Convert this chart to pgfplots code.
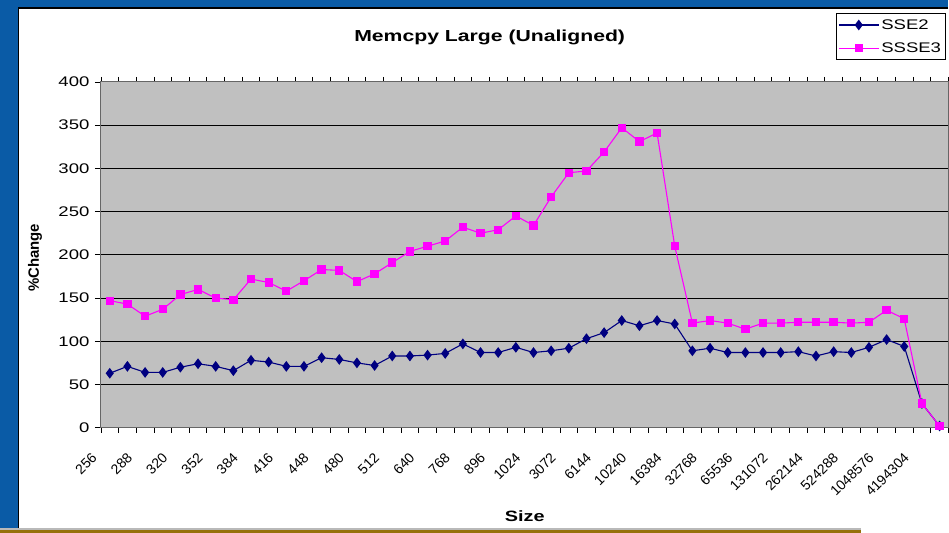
\documentclass[border=0pt]{standalone}
\usepackage{fontspec}
\setmainfont{Liberation Sans}
\newfontfamily\wide[FakeStretch=1.33]{Liberation Sans}
\usepackage{pgfplots}
\pgfplotsset{compat=1.18}
\definecolor{slideblue}{RGB}{10,91,166}
\definecolor{plotgray}{RGB}{192,192,192}
\definecolor{navyline}{RGB}{0,0,128}
\definecolor{magline}{RGB}{255,0,255}
\definecolor{goldstrip}{RGB}{150,112,10}
\begin{document}
\begin{tikzpicture}
\fill[slideblue] (0,0) rectangle (949bp,533bp);
\fill[white] (18bp,0bp) rectangle (949bp,525.5bp);
\draw[black,line width=1.2bp] (18.6bp,5bp) -- (18.6bp,525bp) -- (949bp,525bp);
\fill[gray!55] (0,3bp) rectangle (862bp,5bp);
\fill[goldstrip] (0,0) rectangle (862bp,3bp);
\useasboundingbox (0,0) rectangle (949bp,533bp);
\begin{axis}[
  at={(101bp,105bp)}, anchor=south west,
  scale only axis, width=848bp, height=346bp,
  xmin=-0.5, xmax=47.5, ymin=0, ymax=400,
  axis background/.style={fill=plotgray},
  axis line style={draw=black!60, line width=0.9bp},
  ytick={0,50,...,400},
  ymajorgrids, major grid style={black, line width=0.9bp},
  xtick={0,2,...,46},
  xticklabels={256,288,320,352,384,416,448,480,512,640,768,896,1024,3072,6144,10240,16384,32768,65536,131072,262144,524288,1048576,4194304},
  major x tick style={draw=none},
  minor xtick={-0.5,0.5,...,47.5},
  minor x tick style={black, line width=0.8bp},
  minor tick length=5bp,
  major y tick style={black, line width=0.8bp},
  major tick length=6bp,
  tick align=outside,
  /pgf/number format/assume math mode=true,
  yticklabel style={font=\wide\fontsize{14}{16}\selectfont, xshift=-2bp},
  xticklabel style={font=\fontsize{14}{16}\selectfont, xshift=-13bp, yshift=-19bp, rotate=45, anchor=east},
  title={Memcpy Large (Unaligned)},
  title style={font=\wide\bfseries\fontsize{16}{18}\selectfont, at={(axis description cs:0.4587,1.112)}, anchor=center},
  xlabel={Size},
  every axis x label/.style={at={(axis description cs:0.5,-0.257)}, anchor=center, font=\wide\bfseries\fontsize{15}{17}\selectfont},
  ylabel={\%Change},
  every axis y label/.style={at={(axis description cs:-0.0778,0.491)}, anchor=center, rotate=90, font=\bfseries\fontsize{15}{17}\selectfont},
  legend style={at={(rel axis cs:0.9965,1.1994)}, anchor=north east, draw=black, line width=0.8bp, fill=white,
    font=\wide\fontsize{14}{16}\selectfont, inner xsep=2bp, inner ysep=4bp, row sep=8bp, cells={anchor=west}},
  legend image code/.code={\draw[mark repeat=2,mark phase=2,#1] plot coordinates {(0bp,0bp) (20bp,0bp) (40bp,0bp)};},
]
\addplot[navyline, line width=1.1bp, mark=diamond*, mark size=4.5bp, mark options={solid, fill=navyline, draw=navyline}] coordinates {
(0,63) (1,71) (2,64) (3,64) (4,70) (5,74) (6,71) (7,66) (8,78) (9,76)
(10,71) (11,71) (12,81) (13,79) (14,75) (15,72) (16,83) (17,83) (18,84) (19,86)
(20,97) (21,87) (22,87) (23,93) (24,87) (25,89) (26,92) (27,103) (28,110) (29,124)
(30,118) (31,124) (32,120) (33,89) (34,92) (35,87) (36,87) (37,87) (38,87) (39,88)
(40,83) (41,88) (42,87) (43,93) (44,102) (45,94) (46,28) (47,2)
};
\addlegendentry{SSE2}
\addplot[magline, line width=1.1bp, mark=square*, mark size=3.6bp, mark options={solid, fill=magline, draw=magline}] coordinates {
(0,147) (1,143) (2,129) (3,137) (4,154) (5,160) (6,150) (7,148) (8,172) (9,168)
(10,158) (11,170) (12,183) (13,182) (14,169) (15,178) (16,191) (17,204) (18,210) (19,216)
(20,232) (21,225) (22,229) (23,245) (24,234) (25,267) (26,295) (27,297) (28,319) (29,347)
(30,331) (31,341) (32,210) (33,121) (34,124) (35,121) (36,114) (37,121) (38,121) (39,122)
(40,122) (41,122) (42,121) (43,122) (44,136) (45,126) (46,28) (47,2)
};
\addlegendentry{SSSE3}
\end{axis}
\end{tikzpicture}
\end{document}
